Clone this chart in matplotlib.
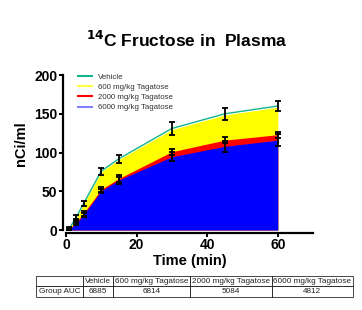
import numpy as np
import matplotlib.pyplot as plt

plt.rcParams['font.family'] = ['Liberation Sans', 'DejaVu Sans']

# time points (min)
t = [0, 1, 3, 5, 10, 15, 30, 45, 60]

# mean plasma 14C (nCi/ml) per group
vehicle = [0, 2, 17, 34, 76, 92, 131, 150, 160]
tag600 = [0, 2, 16, 33, 75, 91, 129.5, 148.5, 158.5]
tag2000 = [0, 1.5, 11, 21.5, 52.5, 66.5, 101, 116, 123]
tag6000 = [0, 1, 9, 19.5, 50.5, 64.5, 94.5, 108, 116]

# SEM
err_veh = [0, 1.5, 3, 3.5, 4.5, 5, 8, 8, 7]
err_low = [0, 1, 2.5, 3, 3, 4, 4, 4, 4]
err_high = [0, 1, 2.5, 3, 3, 4.5, 6, 7, 8]

groups = ['Vehicle', '600 mg/kg Tagatose', '2000 mg/kg Tagatose', '6000 mg/kg Tagatose']
auc = ['6885', '6814', '5084', '4812']

fig = plt.figure(figsize=(3.62, 3.10), dpi=100)
ax = fig.add_axes([0.182, 0.258, 0.683, 0.500])

x = np.array(t)
ax.fill_between(x, tag600, color='#ffff00', lw=0)
ax.fill_between(x, tag2000, color='#ff0000', lw=0)
ax.fill_between(x, tag6000, color='#0000ff', lw=0)
ax.plot(x, vehicle, color='#14b48c', lw=1)

# error bars
kw = dict(fmt='none', ecolor='black', elinewidth=1.3, capsize=2, capthick=1.3)
ax.errorbar(x[1:], vehicle[1:], yerr=err_veh[1:], **kw)
ax.errorbar(x[1:], tag2000[1:], yerr=err_low[1:], **kw)
ax.errorbar(x[1:], tag6000[1:], yerr=err_high[1:], **kw)

# legend handles
h = [plt.Line2D([], [], color=c, lw=1.5) for c in ['#14b48c', '#ffff40', '#ff0000', '#7f7fff']]
leg = ax.legend(h, groups, loc='upper left', bbox_to_anchor=(0.03, 1.04), frameon=False,
                fontsize=5.7, handlelength=1.7, labelspacing=0.32, borderaxespad=0.2)
for txt in leg.get_texts():
    txt.set_color('#333333')

ax.set_xlim(0, 70)
ax.set_ylim(0, 200)
ax.set_xticks([0, 20, 40, 60])
ax.set_yticks([0, 50, 100, 150, 200])
ax.spines['top'].set_visible(False)
ax.spines['right'].set_visible(False)
ax.spines['left'].set_linewidth(1.6)
ax.spines['bottom'].set_linewidth(1.6)
ax.spines['left'].set_position(('outward', 2))
ax.spines['bottom'].set_position(('outward', 2))
ax.tick_params(width=1.4, length=3, labelsize=10, pad=1)
for lab in ax.get_xticklabels() + ax.get_yticklabels():
    lab.set_fontweight('bold')
ax.set_xlabel('Time (min)', fontsize=10.5, fontweight='bold', labelpad=1)
ax.set_ylabel('nCi/ml', fontsize=10.5, fontweight='bold')
ax.yaxis.set_label_coords(-0.155, 0.56)

fig.text(0.515, 0.87, r'$\mathbf{^{14}}$C Fructose in  Plasma', ha='center', va='center',
         fontsize=12.5, fontweight='bold')

# AUC table
tax = fig.add_axes([0.099, 0.042, 0.876, 0.068])
tax.axis('off')
tbl = tax.table(cellText=[['Group AUC'] + auc], colLabels=[''] + groups,
                cellLoc='center', bbox=[0, 0, 1, 1],
                colWidths=[47, 30, 77, 82, 81])
tbl.auto_set_font_size(False)
tbl.set_fontsize(5.9)
for cell in tbl.get_celld().values():
    cell.set_linewidth(0.5)
    cell.get_text().set_color('#222222')

fig.savefig('out.png', dpi=100)
